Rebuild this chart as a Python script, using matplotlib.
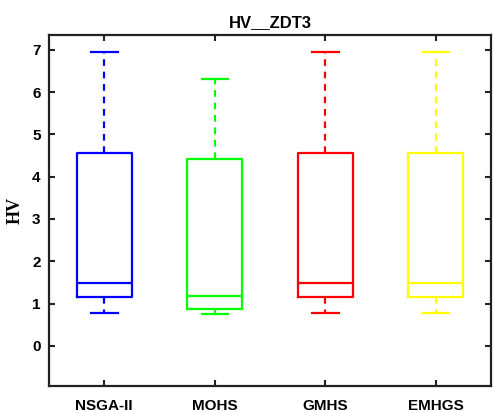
import matplotlib
matplotlib.use('Agg')
import matplotlib.pyplot as plt

# Five-number summaries
algorithms = ['NSGA-II', 'MOHS', 'GMHS', 'EMHGS']
colors = ['#0000ff', '#00ff00', '#ff0000', '#ffff00']
whisker_low = [0.77, 0.76, 0.77, 0.77]
q1 = [1.15, 0.87, 1.15, 1.15]
median = [1.48, 1.19, 1.48, 1.48]
q3 = [4.57, 4.43, 4.57, 4.57]
whisker_high = [6.96, 6.30, 6.96, 6.96]

stats = []
for i, name in enumerate(algorithms):
    stats.append({'label': name, 'whislo': whisker_low[i], 'q1': q1[i], 'med': median[i],
                  'q3': q3[i], 'whishi': whisker_high[i], 'fliers': []})

fig = plt.figure(figsize=(4.93, 4.12), dpi=100)
ax = fig.add_axes([0.0994, 0.063, 0.8966, 0.852])

bp = ax.bxp(stats, positions=range(1, 5), widths=0.5, showfliers=False)

for i, c in enumerate(colors):
    bp['boxes'][i].set(color=c, linewidth=1.6)
    bp['medians'][i].set(color=c, linewidth=1.6)
    for w in bp['whiskers'][2 * i:2 * i + 2]:
        w.set(color=c, linewidth=1.6, linestyle=(0, (3, 2.6)))
    for cap in bp['caps'][2 * i:2 * i + 2]:
        cap.set(color=c, linewidth=1.6)
        x = cap.get_xdata()
        mid = (x[0] + x[1]) / 2
        cap.set_xdata([mid - 0.12, mid + 0.12])

ax.set_xlim(0.5, 4.5)
ax.set_ylim(-0.95, 7.35)
ax.set_yticks(range(0, 8))
ax.set_xticks(range(1, 5))
ax.set_xticklabels(algorithms)

for lbl in ax.get_xticklabels() + ax.get_yticklabels():
    lbl.set_fontfamily('Liberation Sans')
    lbl.set_fontweight('bold')
    lbl.set_fontsize(11)

ax.tick_params(direction='in', length=4, width=1.5, top=True, right=True, color='#222222')
ax.tick_params(axis='x', pad=9)
ax.tick_params(axis='y', pad=6)
for s in ax.spines.values():
    s.set_linewidth(1.6)
    s.set_color('#222222')

ax.set_title('HV__ZDT3', fontfamily='Liberation Sans', fontweight='bold', fontsize=12, pad=6)
ax.set_ylabel('HV', fontfamily='Liberation Serif', fontweight='bold', fontsize=13, labelpad=6)

fig.savefig('out.png', dpi=100)
